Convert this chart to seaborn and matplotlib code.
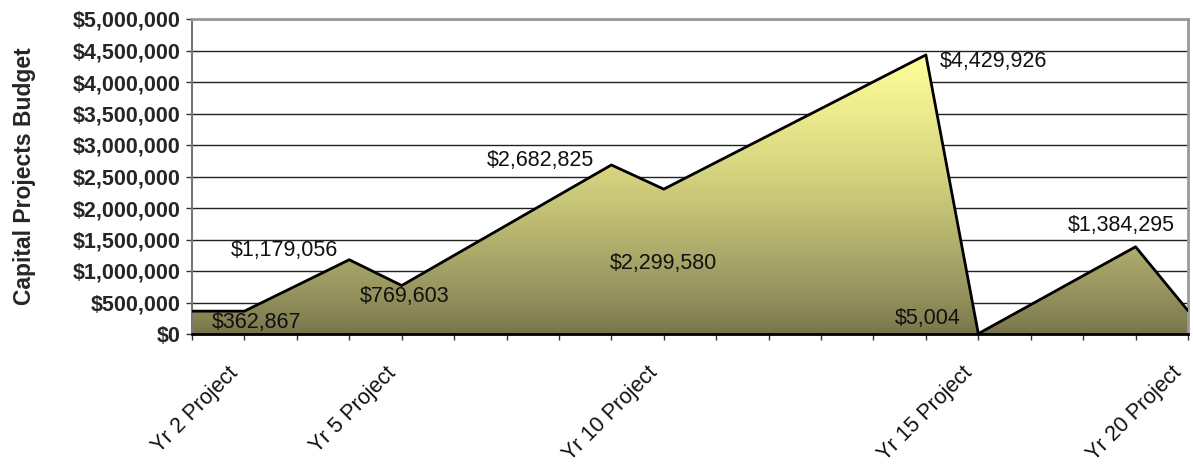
#!/usr/bin/env python3
import matplotlib
matplotlib.use("Agg")
import matplotlib.pyplot as plt
import matplotlib.ticker as mticker
import matplotlib.transforms as mtransforms
import numpy as np
import pandas as pd
import seaborn as sns
from matplotlib.colors import LinearSegmentedColormap


# one point per project year; only some are labelled on the axis
year_idx = list(range(20))
x_labels = ["", "Yr 2 Project", "", "", "Yr 5 Project", "", "", "", "", "Yr 10 Project",
            "", "", "", "", "", "Yr 15 Project", "", "", "", "Yr 20 Project"]
budget = [362867, 362867, 771000, 1179056, 769603, 1248000, 1726000, 2205000, 2682825, 2299580,
          2726000, 3152000, 3578000, 4004000, 4429926, 5004, 465000, 925000, 1384295, 370000]

# which points carry a value label
label_idx = [1, 3, 4, 8, 9, 14, 15, 18]
label_text = ["$362,867", "$1,179,056", "$769,603", "$2,682,825", "$2,299,580",
              "$4,429,926", "$5,004", "$1,384,295"]


def main() -> None:
    sns.set_theme(style="white")
    plt.rcParams["font.family"] = ["Liberation Sans", "DejaVu Sans"]

    df = pd.DataFrame({"idx": year_idx, "budget": budget})

    fig = plt.figure(figsize=(11.93, 4.68), dpi=100)
    ax = fig.add_axes([192 / 1193, 1 - 334 / 468, 996 / 1193, 315 / 468])

    # gradient fill clipped to the area shape
    ymax = max(budget)
    cmap = LinearSegmentedColormap.from_list("olive", ["#75724a", "#a3a066", "#d6d47f", "#ffff99"])
    grad = np.linspace(0, 1, 256) ** 0.75
    poly = ax.fill_between(df["idx"], df["budget"], 0, color="none", zorder=2)
    img = ax.imshow(grad.reshape(-1, 1), cmap=cmap, origin="lower", aspect="auto",
                    extent=[0, 19, 0, ymax], zorder=2)
    img.set_clip_path(poly.get_paths()[0], transform=ax.transData)

    sns.lineplot(data=df, x="idx", y="budget", ax=ax, color="black", linewidth=2,
                 zorder=4, estimator=None)

    ax.set_xlim(0, 19)
    ax.set_ylim(0, 5_000_000)
    ax.yaxis.set_major_locator(mticker.MultipleLocator(500_000))
    ax.yaxis.set_major_formatter(mticker.FuncFormatter(lambda v, _: f"${v:,.0f}"))
    ax.grid(True, axis="y", color="#222222", linewidth=1, zorder=1)
    ax.set_axisbelow(True)

    # ticks at every year, rotated category names placed under a few of them
    ax.set_xticks(year_idx)
    ax.set_xticklabels([""] * len(year_idx))
    lbl_tf = ax.get_xaxis_transform() + mtransforms.ScaledTranslation(-9 / 100, -36 / 100,
                                                                        fig.dpi_scale_trans)
    for i, name in zip(year_idx, x_labels):
        if name:
            ax.text(i, 0, name, transform=lbl_tf, rotation=45, ha="right", va="center",
                    rotation_mode="anchor", fontsize=15.5, color="#111111")

    ax.tick_params(axis="x", which="major", direction="out", length=4.5, width=1, color="#333333",
                   bottom=True)
    ax.tick_params(axis="y", which="major", direction="out", length=4.5, width=1, color="#333333",
                   left=True, labelsize=15.5, pad=4)
    for lbl in ax.get_yticklabels():
        lbl.set_fontweight("bold")

    ax.set_xlabel("")
    ax.set_ylabel("Capital Projects Budget", fontsize=16.5, fontweight="bold")
    ax.yaxis.set_label_coords(-156 / 996, 0.5)

    for side in ["top", "right"]:
        ax.spines[side].set_color("#999999")
        ax.spines[side].set_linewidth(2)
    ax.spines["left"].set_color("#777777")
    ax.spines["left"].set_linewidth(1.5)
    ax.spines["bottom"].set_color("black")
    ax.spines["bottom"].set_linewidth(2)
    ax.spines["bottom"].set_zorder(5)

    offsets = {
        1: (12, -11, "center"),
        3: (-11, 9, "right"),
        4: (3, -11, "center"),
        8: (-17, 4, "right"),
        9: (0, -74, "center"),
        14: (14, -7, "left"),
        15: (-18, 15, "right"),
        18: (-14, 21, "center"),
    }
    for i, txt in zip(label_idx, label_text):
        dx, dy, ha = offsets[i]
        ax.annotate(txt, (i, budget[i]), xytext=(dx, dy), textcoords="offset pixels",
                    ha=ha, va="center", fontsize=15.5, color="#111111", zorder=6)

    fig.savefig("out.png", dpi=100)
    plt.close(fig)


if __name__ == "__main__":
    main()
